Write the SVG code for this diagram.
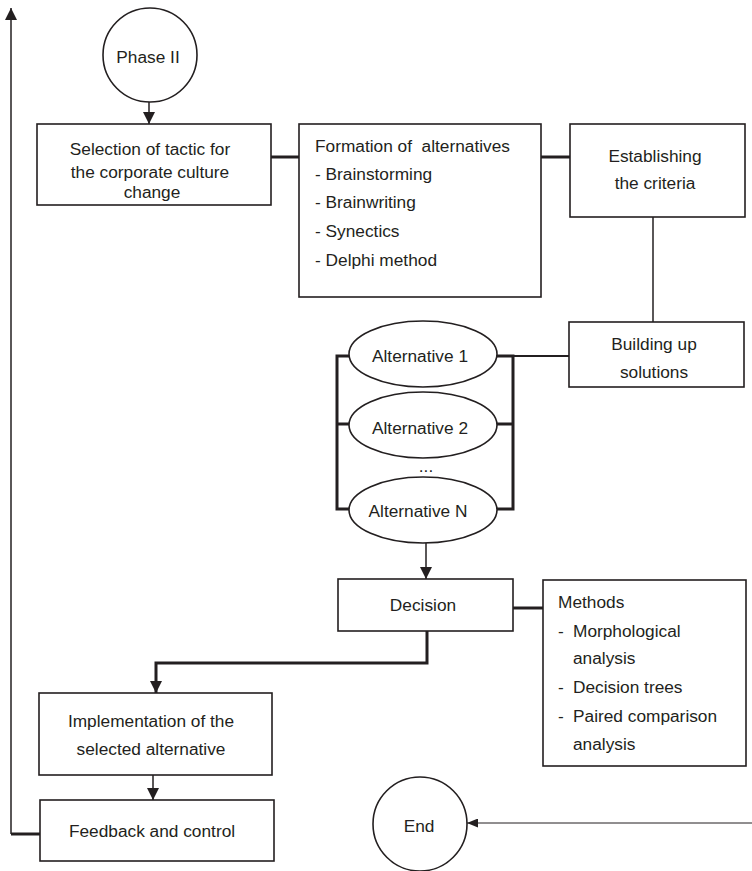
<svg xmlns="http://www.w3.org/2000/svg" width="752" height="871" viewBox="0 0 752 871">
<style>
  text { font-family: "Liberation Sans", Arial, sans-serif; font-size: 17.3px; fill: #231f20; }
  .c { text-anchor: middle; }
  .box { fill: #fff; stroke: #231f20; stroke-width: 1.6; }
  .thin { fill: none; stroke: #231f20; stroke-width: 1.5; }
  .thick { fill: none; stroke: #231f20; stroke-width: 3; }
  .hair { fill: none; stroke: #231f20; stroke-width: 1; }
</style>
<defs>
  <marker id="arr" markerUnits="userSpaceOnUse" markerWidth="12" markerHeight="12" refX="12" refY="6" orient="auto">
    <path d="M0,0 L12,6 L0,12 z" fill="#231f20"/>
  </marker>
  <marker id="arrS" markerUnits="userSpaceOnUse" markerWidth="11" markerHeight="9" refX="11" refY="4.5" orient="auto">
    <path d="M0,0 L11,4.5 L0,9 z" fill="#231f20"/>
  </marker>
</defs>
<rect width="752" height="871" fill="#fff"/>

<g id="connectors">
  <path class="thick" d="M40,834 H11"/>
  <path class="thin" d="M11,834 V8" marker-end="url(#arr)"/>
  <path class="thin" d="M149,102 V124" marker-end="url(#arr)"/>
  <path class="thick" d="M271,157 H299"/>
  <path class="thick" d="M541,157 H570"/>
  <path class="thin" d="M653,217 V322"/>
  <path class="thin" d="M513,356 H569" style="stroke-width:2"/>
  <path class="thick" d="M349,356 H337 V509 H349 M337,424 H349"/>
  <path class="thick" d="M497,356 H513 V509 H497 M497,424 H513"/>
  <path class="thin" d="M426,543 V579" marker-end="url(#arr)"/>
  <path class="thick" d="M513,608 H543"/>
  <path class="thick" d="M427,631 V663 H156 V693" marker-end="url(#arr)"/>
  <path class="thin" d="M153,775 V800" marker-end="url(#arr)"/>
  <path class="hair" d="M752,823 H467" marker-end="url(#arrS)"/>
</g>

<g id="phase2">
  <circle class="box" cx="150" cy="55" r="47"/>
  <text class="c" x="148" y="63">Phase II</text>
</g>

<g id="selection">
  <rect class="box" x="37" y="124" width="234" height="81"/>
  <text class="c" x="150" y="155">Selection of tactic for</text>
  <text class="c" x="150" y="178">the corporate culture</text>
  <text class="c" x="152" y="198">change</text>
</g>

<g id="formation">
  <rect class="box" x="299" y="124" width="242" height="173"/>
  <text x="315" y="152" xml:space="preserve">Formation of  alternatives</text>
  <text x="315" y="180">- Brainstorming</text>
  <text x="315" y="208">- Brainwriting</text>
  <text x="315" y="237">- Synectics</text>
  <text x="315" y="266">- Delphi method</text>
</g>

<g id="establishing">
  <rect class="box" x="570" y="124" width="175" height="93"/>
  <text class="c" x="655" y="162">Establishing</text>
  <text class="c" x="655" y="189">the criteria</text>
</g>

<g id="building">
  <rect class="box" x="569" y="322" width="175" height="65"/>
  <text class="c" x="654" y="350">Building up</text>
  <text class="c" x="654" y="378">solutions</text>
</g>

<g id="alt1">
  <ellipse class="box" cx="423" cy="354" rx="74" ry="33"/>
  <text class="c" x="420" y="362">Alternative 1</text>
</g>

<g id="alt2">
  <ellipse class="box" cx="423" cy="425" rx="74" ry="33"/>
  <text class="c" x="420" y="434">Alternative 2</text>
</g>

<text class="c" x="426" y="472">...</text>

<g id="altN">
  <ellipse class="box" cx="423" cy="510" rx="74" ry="33"/>
  <text class="c" x="418" y="517">Alternative N</text>
</g>

<g id="decision">
  <rect class="box" x="338" y="579" width="175" height="52"/>
  <text class="c" x="423" y="611">Decision</text>
</g>

<g id="methods">
  <rect class="box" x="543" y="580" width="203" height="186"/>
  <text x="558" y="608">Methods</text>
  <text x="558" y="637">-</text>
  <text x="573" y="637">Morphological</text>
  <text x="573" y="664">analysis</text>
  <text x="558" y="693">-</text>
  <text x="573" y="693">Decision trees</text>
  <text x="558" y="722">-</text>
  <text x="573" y="722">Paired comparison</text>
  <text x="573" y="750">analysis</text>
</g>

<g id="implementation">
  <rect class="box" x="39" y="693" width="233" height="82"/>
  <text class="c" x="151" y="727">Implementation of the</text>
  <text class="c" x="151" y="755">selected alternative</text>
</g>

<g id="feedback">
  <rect class="box" x="40" y="800" width="234" height="61"/>
  <text class="c" x="152" y="837">Feedback and control</text>
</g>

<g id="end">
  <circle class="box" cx="420" cy="824" r="47"/>
  <text class="c" x="419" y="832">End</text>
</g>
</svg>
